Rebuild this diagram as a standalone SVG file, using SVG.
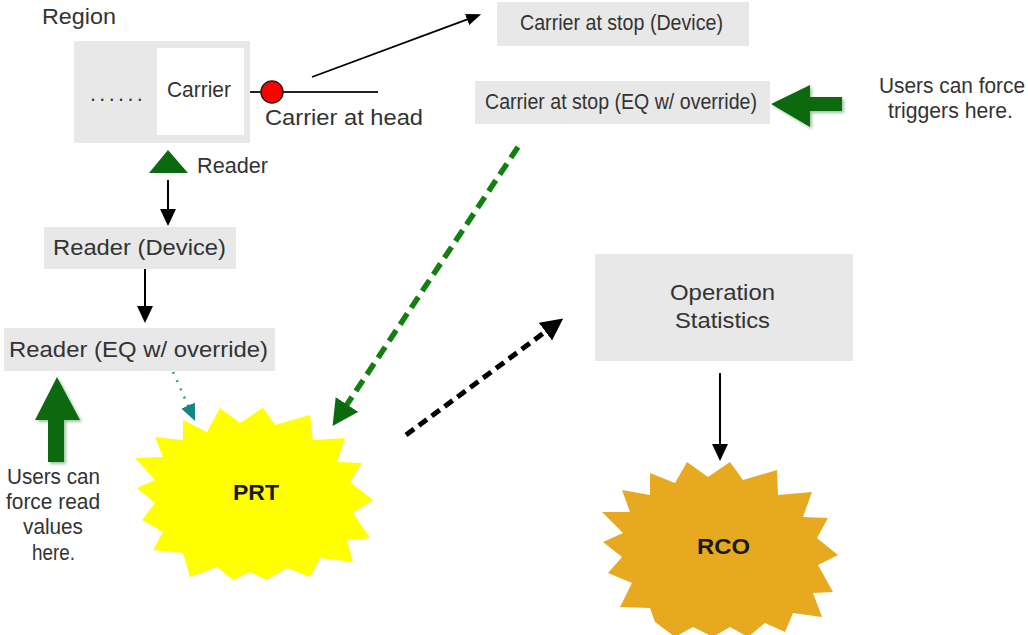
<svg xmlns="http://www.w3.org/2000/svg" width="1028" height="635" viewBox="0 0 1028 635">
<style>
.box{fill:#e8e8e8}
.t{font-family:"Liberation Sans",Arial,sans-serif;font-size:21.5px;fill:#333}
.b{font-family:"Liberation Sans",Arial,sans-serif;font-size:22px;font-weight:bold;fill:#1a1a1a}
.g{fill:#0b690f}
</style>
<defs>
<filter id="sh" x="-20%" y="-20%" width="150%" height="150%">
<feDropShadow dx="2" dy="2" stdDeviation="1.5" flood-color="#2e7d32" flood-opacity="0.45"/>
</filter>
<marker id="ahS" markerUnits="userSpaceOnUse" viewBox="0 0 17 16" markerWidth="17" markerHeight="16" refX="1" refY="8" orient="auto"><path d="M0,0 L17,8 L0,16 z" fill="#000"/></marker>
<marker id="ahT" markerUnits="userSpaceOnUse" viewBox="0 0 15 12" markerWidth="15" markerHeight="12" refX="1" refY="6" orient="auto"><path d="M0,0 L15,6 L0,12 z" fill="#000"/></marker>
<marker id="ahD" markerUnits="userSpaceOnUse" viewBox="0 0 22 22" markerWidth="22" markerHeight="22" refX="1" refY="11" orient="auto"><path d="M0,0 L22,11 L0,22 z" fill="#000"/></marker>
<marker id="ahG" markerUnits="userSpaceOnUse" viewBox="0 0 26 27" markerWidth="26" markerHeight="27" refX="1" refY="13.5" orient="auto"><path d="M0,0 L26,13.5 L0,27 z" fill="#0b6b0b"/></marker>
<marker id="ahC" markerUnits="userSpaceOnUse" viewBox="0 0 17 15" markerWidth="17" markerHeight="15" refX="1" refY="7.5" orient="auto"><path d="M0,0 L17,7.5 L0,15 z" fill="#178585"/></marker>
</defs>

<g id="region">
<text class="t" x="42" y="24" textLength="74" lengthAdjust="spacingAndGlyphs">Region</text>
<rect class="box" x="74" y="41" width="176" height="102"/>
<rect x="157" y="48" width="87" height="87" fill="#fff"/>
<text class="t" x="90" y="101" letter-spacing="3.4" fill="#555">......</text>
<text class="t" x="167" y="97" textLength="64" lengthAdjust="spacingAndGlyphs">Carrier</text>
</g>

<g id="carrier-head">
<line x1="250" y1="92" x2="378" y2="92" stroke="#222" stroke-width="2"/>
<circle cx="272" cy="92" r="11" fill="#f00" stroke="#222" stroke-width="1.5"/>
<text class="t" x="265" y="125" textLength="158" lengthAdjust="spacingAndGlyphs">Carrier at head</text>
</g>

<g id="reader-sensor">
<polygon class="g" points="149,173 168,150 188,173"/>
<text class="t" x="197" y="173" textLength="71" lengthAdjust="spacingAndGlyphs">Reader</text>
</g>

<g id="reader-device">
<rect class="box" x="44" y="227" width="192" height="42"/>
<text class="t" x="53" y="255" textLength="173" lengthAdjust="spacingAndGlyphs">Reader (Device)</text>
</g>

<g id="reader-eq">
<rect class="box" x="4" y="328" width="271" height="43"/>
<text class="t" x="9" y="357" textLength="259" lengthAdjust="spacingAndGlyphs">Reader (EQ w/ override)</text>
</g>

<g id="stop-device">
<rect class="box" x="497" y="2" width="252" height="44"/>
<text class="t" x="520" y="30" textLength="203" lengthAdjust="spacingAndGlyphs" font-size="20">Carrier at stop (Device)</text>
</g>

<g id="stop-eq">
<rect class="box" x="475" y="81" width="295" height="43"/>
<text class="t" x="485" y="109" textLength="272" lengthAdjust="spacingAndGlyphs" font-size="20">Carrier at stop (EQ w/ override)</text>
</g>

<g id="note-triggers">
<polygon class="g" filter="url(#sh)" points="771,104 810,85 810,97 842,97 842,111 810,111 810,127"/>
<text class="t" x="879" y="93" textLength="146" lengthAdjust="spacingAndGlyphs">Users can force</text>
<text class="t" x="888" y="118" textLength="125" lengthAdjust="spacingAndGlyphs">triggers here.</text>
</g>

<g id="note-read">
<polygon class="g" filter="url(#sh)" points="57,377 80,420 64,420 64,462 48,462 48,420 35,420"/>
<text class="t" x="7" y="484" textLength="93" lengthAdjust="spacingAndGlyphs">Users can</text>
<text class="t" x="6" y="509" textLength="94" lengthAdjust="spacingAndGlyphs">force read</text>
<text class="t" x="23" y="534" textLength="60" lengthAdjust="spacingAndGlyphs">values</text>
<text class="t" x="32" y="560" textLength="43" lengthAdjust="spacingAndGlyphs">here.</text>
</g>

<g id="op-stats">
<rect class="box" x="595" y="254" width="258" height="107"/>
<text class="t" x="670" y="300" textLength="105" lengthAdjust="spacingAndGlyphs">Operation</text>
<text class="t" x="675" y="328" textLength="95" lengthAdjust="spacingAndGlyphs">Statistics</text>
</g>

<g id="prt">
<polygon fill="#ffff00" points="183,420 207,432 220,408 240,423 263,408 275,425 310,415 313,440 345,438 337,462 362,463 350,482 373,500 353,513 370,538 347,540 353,562 320,558 310,577 287,568 267,580 250,572 233,580 217,567 190,577 183,553 153,550 163,532 142,520 155,503 137,488 155,480 135,458 163,457 155,437 183,440"/>
<text class="b" x="233" y="500" textLength="46" lengthAdjust="spacingAndGlyphs">PRT</text>
</g>

<g id="rco">
<polygon fill="#e6a920" points="687,462 708,477 730,462 743,480 777,470 778,495 812,492 803,517 828,518 817,538 838,555 818,565 833,592 813,593 822,617 793,613 785,632 765,623 748,637 730,627 713,637 693,627 675,637 655,622 650,608 620,607 632,583 608,573 622,557 603,542 623,533 602,512 630,512 622,490 650,495 650,473 675,483"/>
<text class="b" x="697" y="554" textLength="53" lengthAdjust="spacingAndGlyphs">RCO</text>
</g>

<g id="connectors" fill="none">
<line x1="168" y1="180" x2="168" y2="210" stroke="#000" stroke-width="2" marker-end="url(#ahS)"/>
<line x1="145" y1="269" x2="145" y2="307" stroke="#000" stroke-width="2" marker-end="url(#ahS)"/>
<line x1="720" y1="373" x2="720" y2="445" stroke="#000" stroke-width="2" marker-end="url(#ahS)"/>
<line x1="312" y1="77" x2="468" y2="19.2" stroke="#000" stroke-width="1.8" marker-end="url(#ahT)"/>
<line x1="406" y1="435" x2="546.3" y2="331.1" stroke="#000" stroke-width="5" stroke-dasharray="10 6" marker-end="url(#ahD)"/>
<line x1="518" y1="147" x2="346.4" y2="405.3" stroke="#118011" stroke-width="5.5" stroke-dasharray="13 7" marker-end="url(#ahG)"/>
<line x1="173" y1="372" x2="188.5" y2="406.5" stroke="#2a9a9a" stroke-width="2.5" stroke-dasharray="2 7" marker-end="url(#ahC)"/>
</g>
</svg>
